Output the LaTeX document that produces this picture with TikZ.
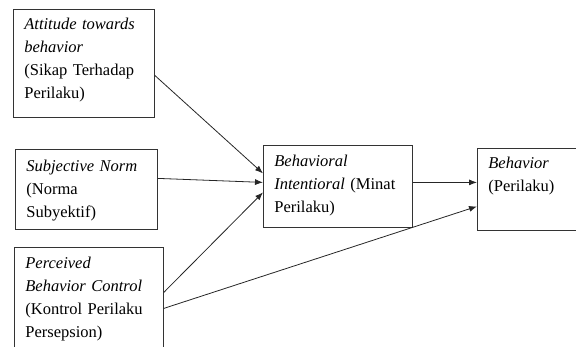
\documentclass[tikz,border=0pt]{standalone}
\usepackage{fontspec}
\setmainfont{Liberation Serif}
\usetikzlibrary{arrows.meta}

\begin{document}
\begin{tikzpicture}[x=1pt, y=-1pt, every node/.style={font=\fontsize{16.5}{23}\selectfont},
	box/.style={draw=black!80, line width=0.8pt, anchor=north west, align=left, inner xsep=11pt, inner ysep=0pt, text height=21pt},
	link/.style={black!85, line width=0.8pt, -{Latex[length=8pt,width=6pt]}}]
	\clip (0,0) rectangle (576,347);
	\node[box, text width=119pt, text height=20pt, text depth=88pt] (att) at (13,9) {\textit{Attitude towards}\\\textit{behavior}\\(Sikap Terhadap\\Perilaku)};
	\node[box, text width=120pt, text height=22pt, text depth=58pt] (sub) at (15,149) {\textit{Subjective Norm}\\(Norma\\Subyektif)};
	\node[box, text width=127pt, text depth=92pt] (per) at (14,247) {\textit{Perceived}\\\textit{Behavior Control}\\(Kontrol Perilaku\\Persepsion)};
	\node[box, text width=127pt, text depth=61pt] (int) at (263,145) {\textit{Behavioral}\\\textit{Intentioral} (Minat\\Perilaku)};
	\node[box, text width=140pt, text height=20pt, text depth=62pt] (beh) at (477,148) {\textit{Behavior}\\(Perilaku)};
	\foreach \a/\da/\b/\db in {att/-12/int/13, sub/11/int/4, per/11.5/int/-6, per/-4.5/beh/-17, int/4/beh/7} {\draw[link] ([yshift=\da pt]\a.east) -- ([yshift=\db pt]\b.west);}
\end{tikzpicture}
\end{document}
